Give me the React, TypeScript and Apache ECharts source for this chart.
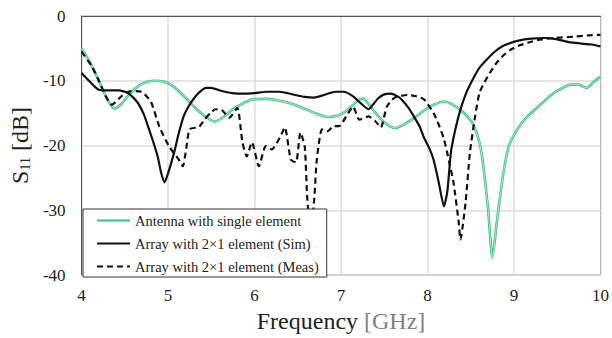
import React, { useEffect, useRef } from "react";
import * as echarts from "echarts";

const xTicks = [4, 5, 6, 7, 8, 9, 10];
const yTicks = [-40, -30, -20, -10, 0];

const seriesNames = [
  "Antenna with single element",
  "Array with 2×1 element (Sim)",
  "Array with 2×1 element (Meas)",
];

const singleElement: [number, number][] = [
  [4.0, -5.0], [4.1, -7.2], [4.2, -10.0], [4.3, -12.9], [4.38, -14.3], [4.46, -13.6], [4.54, -12.3],
  [4.65, -10.9], [4.75, -10.2], [4.86, -10.0], [4.99, -10.3], [5.1, -11.3], [5.22, -12.9], [5.33, -14.4],
  [5.44, -15.6], [5.54, -16.3], [5.64, -15.6], [5.74, -14.5], [5.85, -13.6], [5.97, -12.9], [6.13, -12.8],
  [6.26, -13.0], [6.39, -13.4], [6.5, -13.9], [6.61, -14.5], [6.72, -15.1], [6.84, -15.6], [6.92, -15.5],
  [7.0, -15.2], [7.1, -14.2], [7.21, -12.9], [7.26, -12.8], [7.33, -13.8], [7.4, -15.0], [7.5, -16.4],
  [7.62, -17.3], [7.72, -16.8], [7.85, -15.7], [7.96, -14.6], [8.07, -13.7], [8.19, -13.2], [8.28, -13.6],
  [8.38, -14.5], [8.46, -15.5], [8.53, -16.8], [8.6, -19.5], [8.64, -22.6], [8.7, -29.8], [8.75, -37.4],
  [8.8, -32.0], [8.83, -28.8], [8.88, -24.0], [8.94, -20.1], [9.0, -18.4], [9.09, -16.5], [9.18, -15.2],
  [9.28, -14.0], [9.37, -12.9], [9.46, -11.9], [9.55, -11.2], [9.65, -10.6], [9.75, -10.6], [9.84, -11.1],
  [9.92, -10.2], [10.0, -9.4],
];

const arraySim: [number, number][] = [
  [4.0, -8.8], [4.1, -10.2], [4.2, -11.4], [4.32, -11.5], [4.43, -11.5], [4.54, -11.9], [4.65, -13.4],
  [4.72, -15.2], [4.77, -17.1], [4.83, -19.5], [4.88, -21.7], [4.92, -24.2], [4.96, -25.7], [5.0, -24.3],
  [5.07, -21.1], [5.12, -18.3], [5.18, -15.5], [5.24, -13.9], [5.29, -12.9], [5.36, -11.8], [5.44, -11.1],
  [5.5, -11.1], [5.6, -11.5], [5.74, -11.9], [5.87, -12.0], [6.0, -11.9], [6.14, -11.7], [6.27, -11.7],
  [6.38, -11.9], [6.47, -12.2], [6.58, -12.5], [6.69, -12.6], [6.78, -12.3], [6.87, -11.9], [6.95, -11.7],
  [7.03, -11.7], [7.14, -12.4], [7.23, -13.5], [7.32, -14.4], [7.38, -13.5], [7.43, -12.7], [7.5, -12.1],
  [7.57, -12.0], [7.64, -12.3], [7.7, -12.9], [7.78, -14.2], [7.85, -15.7], [7.91, -17.1], [7.96, -18.8],
  [8.02, -20.4], [8.07, -22.2], [8.13, -25.7], [8.19, -29.4], [8.23, -27.0], [8.27, -21.1], [8.32, -17.6],
  [8.38, -14.5], [8.45, -11.8], [8.53, -9.6], [8.6, -8.0], [8.68, -6.8], [8.77, -5.6], [8.86, -4.7],
  [8.95, -4.2], [9.05, -3.8], [9.2, -3.5], [9.35, -3.4], [9.5, -3.6], [9.62, -4.0], [9.8, -4.3],
  [9.9, -4.4], [10.0, -4.7],
];

const arrayMeas: [number, number][] = [
  [4.0, -5.5], [4.12, -7.8], [4.2, -10.0], [4.28, -12.4], [4.35, -13.7], [4.46, -12.4], [4.57, -11.6],
  [4.69, -11.7], [4.8, -13.2], [4.9, -17.1], [5.01, -20.1], [5.12, -22.1], [5.17, -23.2], [5.21, -20.5],
  [5.25, -17.5], [5.36, -17.1], [5.42, -16.0], [5.49, -15.0], [5.55, -14.4], [5.62, -14.5], [5.71, -15.7],
  [5.8, -14.2], [5.86, -19.5], [5.91, -21.7], [5.97, -19.5], [6.05, -23.2], [6.13, -20.1], [6.2, -20.6],
  [6.3, -18.6], [6.35, -17.2], [6.42, -22.2], [6.48, -22.6], [6.53, -18.0], [6.58, -20.1], [6.61, -28.3],
  [6.65, -32.9], [6.69, -28.3], [6.72, -22.2], [6.78, -17.5], [6.84, -17.8], [6.92, -17.0], [6.98, -17.0],
  [7.06, -15.5], [7.14, -14.0], [7.21, -16.0], [7.32, -15.5], [7.4, -16.3], [7.46, -17.2], [7.53, -14.0],
  [7.62, -12.6], [7.77, -12.2], [7.87, -12.4], [7.96, -12.9], [8.07, -15.0], [8.13, -16.8], [8.19, -19.0],
  [8.25, -22.5], [8.3, -25.7], [8.36, -31.8], [8.38, -34.5], [8.44, -28.8], [8.49, -21.1], [8.55, -15.5],
  [8.6, -11.9], [8.66, -10.2], [8.72, -8.8], [8.79, -7.4], [8.86, -6.3], [8.95, -5.3], [9.05, -4.6],
  [9.17, -4.1], [9.28, -3.7], [9.46, -3.4], [9.69, -3.2], [9.85, -3.0], [10.0, -2.9],
];

const FONT = "Liberation Serif";

export default function App() {
  const ref = useRef<HTMLDivElement>(null);
  useEffect(() => {
    if (!ref.current) return;
    const chart = echarts.init(ref.current, null, { renderer: "svg" });
    chart.setOption({
      animation: false,
      backgroundColor: "#ffffff",
      textStyle: { fontFamily: FONT },
      grid: {
        left: 78,
        right: 1,
        top: 16,
        bottom: 62,
        show: true,
        borderColor: "#555555",
        borderWidth: 1,
        backgroundColor: "transparent",
      },
      legend: {
        data: seriesNames.map((n) => ({ name: n, itemStyle: { opacity: 0 } })),
        orient: "vertical",
        left: 83,
        top: 209,
        padding: [4, 8, 3, 13],
        itemGap: 8,
        itemWidth: 33,
        itemHeight: 14,
        backgroundColor: "#ffffff",
        borderColor: "#333333",
        borderWidth: 1,
        borderRadius: 0,
        selectedMode: false,
        itemStyle: { opacity: 0 },
        textStyle: { fontFamily: FONT, fontSize: 14.5, color: "#222222" },
      },
      xAxis: {
        type: "value",
        min: xTicks[0],
        max: xTicks[xTicks.length - 1],
        interval: 1,
        name: "{a|Frequency }{b|[GHz]}",
        nameLocation: "middle",
        nameGap: 34,
        nameTextStyle: {
          rich: {
            a: { fontFamily: FONT, fontSize: 24, color: "#222222" },
            b: { fontFamily: FONT, fontSize: 24, color: "#808080" },
          },
        },
        axisLine: { show: true, lineStyle: { color: "#555555", width: 1 } },
        axisTick: { show: false },
        axisLabel: { fontFamily: FONT, fontSize: 17, color: "#222222", margin: 12 },
        splitLine: { show: true, lineStyle: { color: "#dcdcdc", width: 1.5 } },
      },
      yAxis: {
        type: "value",
        min: yTicks[0],
        max: yTicks[yTicks.length - 1],
        interval: 10,
        name: "{a|S}{s|11}{a| [dB]}",
        nameLocation: "middle",
        nameGap: 44,
        nameTextStyle: {
          rich: {
            a: { fontFamily: FONT, fontSize: 24, color: "#222222" },
            s: { fontFamily: FONT, fontSize: 14, color: "#222222", verticalAlign: "bottom", padding: [10, 0, 0, 0] },
          },
        },
        axisLine: { show: true, lineStyle: { color: "#555555", width: 1 } },
        axisTick: { show: false },
        axisLabel: { fontFamily: FONT, fontSize: 17, color: "#222222", margin: 16 },
        splitLine: { show: true, lineStyle: { color: "#dcdcdc", width: 1.5 } },
      },
      series: [
        {
          name: seriesNames[0],
          type: "line",
          data: singleElement,
          showSymbol: false,
          symbol: "none",
          smooth: 0.2,
          color: "#3dbf7f",
          lineStyle: { color: "#3dbf7f", width: 2.6 },
          z: 2,
        },
        {
          name: "singleInner",
          type: "line",
          data: singleElement,
          showSymbol: false,
          symbol: "none",
          smooth: 0.2,
          silent: true,
          color: "#d2f3e2",
          lineStyle: { color: "#d2f3e2", width: 0.8 },
          z: 2,
        },
        {
          name: seriesNames[1],
          type: "line",
          data: arraySim,
          showSymbol: false,
          symbol: "none",
          smooth: 0.2,
          color: "#111111",
          lineStyle: { color: "#111111", width: 2.2 },
          z: 3,
        },
        {
          name: seriesNames[2],
          type: "line",
          data: arrayMeas,
          showSymbol: false,
          symbol: "none",
          smooth: 0.2,
          color: "#111111",
          lineStyle: { color: "#111111", width: 2.2, type: [6, 4] },
          z: 3,
        },
      ],
    });
    return () => chart.dispose();
  }, []);
  return (
    <div
      ref={ref}
      style={{ position: "fixed", left: 0, top: 0, width: 612, height: 338 }}
    />
  );
}
